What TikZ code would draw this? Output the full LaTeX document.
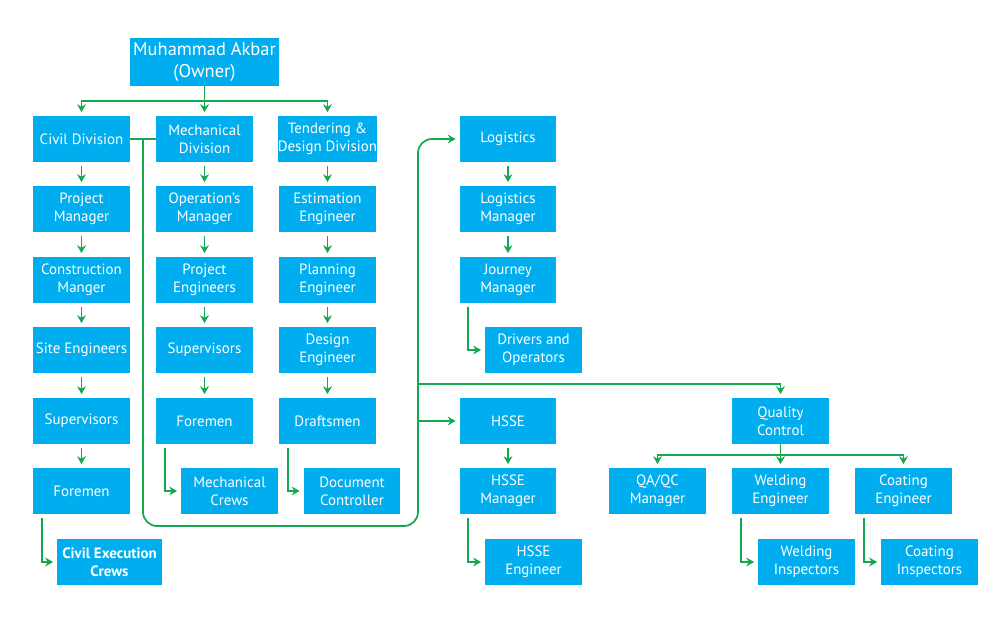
\documentclass[tikz,border=0pt]{standalone}
\usepackage{fontspec}
\setmainfont{PT Sans}
\usetikzlibrary{arrows.meta}
\definecolor{boxblue}{RGB}{0,174,239}
\definecolor{linegreen}{RGB}{20,168,80}

\begin{document}
\begin{tikzpicture}[x=0.02cm,y=-0.02cm,
    box/.style={fill=boxblue, text=white, align=center, inner sep=0pt, minimum width=1.94cm, minimum height=0.92cm, font=\fontsize{8.5}{10.2}\selectfont},
    link/.style={draw=linegreen, line width=1pt},
    arr/.style={link, -{Stealth[length=4.5pt,width=5pt]}, shorten <=2pt, shorten >=2pt}]
    \useasboundingbox (0,0) rectangle (1000,634);

    % owner and the three divisions
    \node[box, minimum width=2.98cm, minimum height=0.96cm, font=\fontsize{10.5}{12.5}\selectfont] (owner) at (204.5,62) {Muhammad Akbar\\(Owner)};
    \node[box] (civ) at (81.5,139) {Civil Division};
    \node[box] (mech) at (204.5,139) {Mechanical\\Division};
    \node[box] (tend) at (327.5,139) {Tendering \&\\Design Division};

    % civil column
    \node[box] (civpm) at (81.5,209) {Project\\Manager};
    \node[box] (civcm) at (81.5,280) {Construction\\Manger};
    \node[box] (civse) at (81.5,350) {Site Engineers};
    \node[box] (civsup) at (81.5,421) {Supervisors};
    \node[box] (civfor) at (81.5,491) {Foremen};
    \node[box, minimum width=2.1cm, font=\fontsize{8.5}{10.2}\selectfont\bfseries] (civcrew) at (109.5,562) {Civil Execution\\Crews};

    % mechanical column
    \node[box] (mechom) at (204.5,209) {Operation's\\Manager};
    \node[box] (mechpe) at (204.5,280) {Project\\Engineers};
    \node[box] (mechsup) at (204.5,350) {Supervisors};
    \node[box] (mechfor) at (204.5,421) {Foremen};
    \node[box] (mechcrew) at (229.5,491) {Mechanical\\Crews};

    % tendering column
    \node[box] (tendest) at (327.5,209) {Estimation\\Engineer};
    \node[box] (tendplan) at (327.5,280) {Planning\\Engineer};
    \node[box] (tenddes) at (327.5,350) {Design\\Engineer};
    \node[box] (tenddraft) at (327.5,421) {Draftsmen};
    \node[box] (tenddoc) at (352,491) {Document\\Controller};

    % logistics and hsse
    \node[box] (log) at (508,139) {Logistics};
    \node[box] (logman) at (508,209) {Logistics\\Manager};
    \node[box] (logjour) at (508,280) {Journey\\Manager};
    \node[box] (logdrv) at (533.5,350) {Drivers and\\Operators};
    \node[box] (hsse) at (508,421) {HSSE};
    \node[box] (hsseman) at (508,491) {HSSE\\Manager};
    \node[box] (hsseeng) at (533.5,562) {HSSE\\Engineer};

    % quality control
    \node[box] (qc) at (780.5,421) {Quality\\Control};
    \node[box] (qcman) at (657.5,491) {QA/QC\\Manager};
    \node[box] (qcweld) at (780.5,491) {Welding\\Engineer};
    \node[box] (qccoat) at (903.5,491) {Coating\\Engineer};
    \node[box] (qcwins) at (806.5,562) {Welding\\Inspectors};
    \node[box] (qccins) at (929.5,562) {Coating\\Inspectors};

    % owner to divisions
    \draw[arr, shorten <=0pt] (owner.south) -- ++(0,15) -| (civ.north);
    \draw[arr, shorten <=0pt] (owner.south) -- (mech.north);
    \draw[arr, shorten <=0pt] (owner.south) -- ++(0,15) -| (tend.north);

    % straight chains
    \foreach \a/\b in {civ/civpm, civpm/civcm, civcm/civse, civse/civsup, civsup/civfor,
                       mech/mechom, mechom/mechpe, mechpe/mechsup, mechsup/mechfor,
                       tend/tendest, tendest/tendplan, tendplan/tenddes, tenddes/tenddraft,
                       log/logman, logman/logjour, hsse/hsseman}
        \draw[arr] (\a) -- (\b);

    % elbows to the last boxes
    \foreach \a/\b in {civfor/civcrew, mechfor/mechcrew, tenddraft/tenddoc,
                       logjour/logdrv, hsseman/hsseeng, qcweld/qcwins, qccoat/qccins}
        \draw[arr] ([xshift=0.18cm]\a.south west) |- (\b.west);

    % the loop from the divisions to logistics, hsse and quality control
    \coordinate (tap) at (143,139);
    \coordinate (bus) at (418,384);
    \draw[link] (civ.east) -- (mech.west);
    \draw[arr, shorten <=0pt, rounded corners=0.28cm] (tap) -- (143,526) -- (418,526) -- (418,139) -- (log.west);
    \draw[arr, shorten <=0pt] (bus) -| (qc.north);
    \draw[arr, shorten <=0pt] (hsse.west -| bus) -- (hsse.west);

    % quality control to its children
    \draw[arr, shorten <=0pt] (qc.south) -- ++(0,11) -| (qcman.north);
    \draw[arr, shorten <=0pt] (qc.south) -- (qcweld.north);
    \draw[arr, shorten <=0pt] (qc.south) -- ++(0,11) -| (qccoat.north);
\end{tikzpicture}
\end{document}
